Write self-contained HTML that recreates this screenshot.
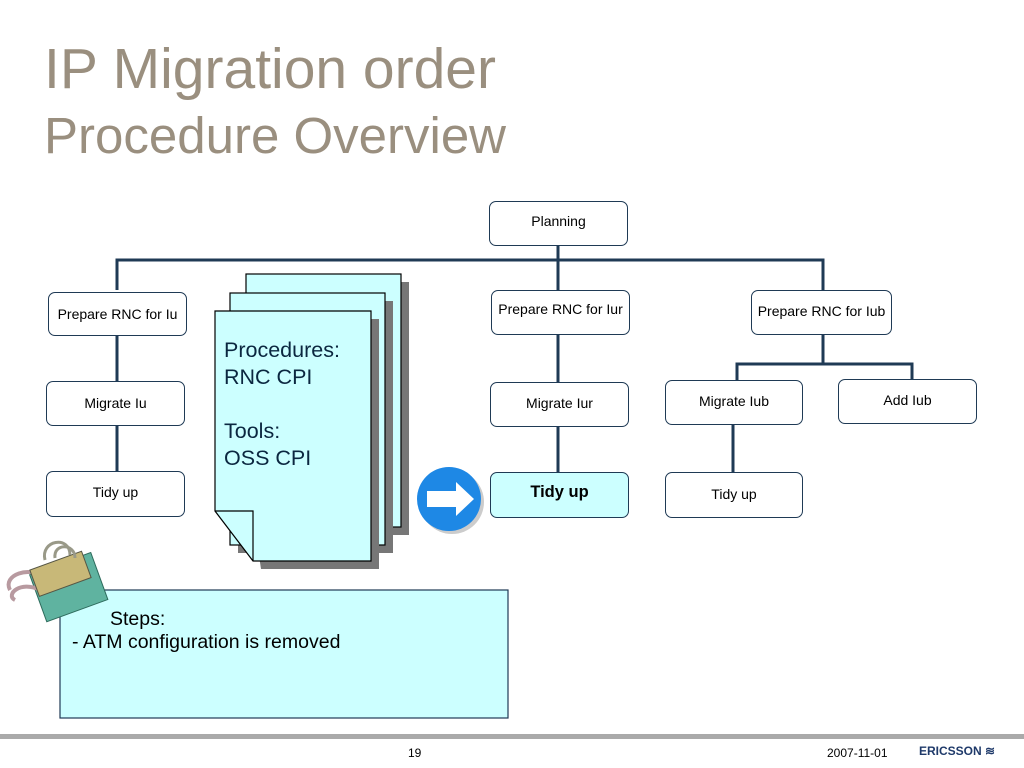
<!DOCTYPE html>
<html><head><style>
body{margin:0;width:1024px;height:768px;background:#fff;position:relative;overflow:hidden;font-family:"Liberation Sans",sans-serif}
.t{position:absolute;color:#9a8f7f;left:44px}
.b{position:absolute;border:1px solid #1f3a55;border-radius:7px;background:#fff;font-size:14px;color:#000;text-align:center;box-sizing:border-box;white-space:nowrap}
</style></head><body>
<div class="t" style="top:36px;font-size:57px">IP Migration order</div>
<div class="t" style="top:106px;font-size:51px">Procedure Overview</div>
<svg width="1024" height="768" style="position:absolute;left:0;top:0">
<g stroke="#1f3a55" stroke-width="3" fill="none">
<path d="M558 245V260M117 290V260H823V290M558 260V290M117 335V381M117 425V471M558 334V382M558 426V472M823 334V364M737 380V364H912V379M733 424V472"/>
</g>
<g stroke="#000" stroke-width="1.2">
<rect x="254" y="282" width="155" height="253" fill="#777" stroke="none"/>
<rect x="246" y="274" width="155" height="253" fill="#ccffff"/>
<rect x="238" y="301" width="155" height="252" fill="#777" stroke="none"/>
<rect x="230" y="293" width="155" height="252" fill="#ccffff"/>
<path d="M223 319H379V569H261Z" fill="#777" stroke="none"/>
<path d="M215 311H371V561H253L215 511Z" fill="#ccffff"/>
<path d="M215 511H253V561" fill="none"/>
</g>
<circle cx="452" cy="502" r="32" fill="#ccc"/>
<circle cx="449" cy="499" r="32" fill="#1e88e5"/>
<path d="M427 491H456V482L474 499L456 516V507H427Z" fill="#fff"/>
<rect x="60" y="590" width="448" height="128" fill="#ccffff" stroke="#1f3a55" stroke-width="1.2"/>
<g transform="rotate(-20 60 585)">
<rect x="35" y="565" width="65" height="50" fill="#5fb3a0" stroke="#2d6b5c"/>
</g>
<path d="M10 590c-8-15 20-25 35-12M15 600c-10-5 5-20 25-10" stroke="#b89aa0" stroke-width="4" fill="none"/>
<rect x="33" y="560" width="55" height="28" fill="#c8b878" stroke="#554" transform="rotate(-20 60 574)"/>
<path d="M45 560c-5-20 25-25 25-5M55 558c-2-15 20-15 20 0" stroke="#998" stroke-width="3" fill="none"/>
<rect x="0" y="734" width="1024" height="5" fill="#aaa"/>
</svg>
<div style="position:absolute;left:224px;top:337px;font-size:21.5px;color:#0b2740;line-height:27px">Procedures:<br>RNC CPI<br><br>Tools:<br>OSS CPI</div>
<div class="b" style="left:489px;top:201px;width:139px;height:45px;padding-top:11px">Planning</div>
<div class="b" style="left:48px;top:292px;width:139px;height:44px;padding-top:13px">Prepare RNC for Iu</div>
<div class="b" style="left:491px;top:290px;width:139px;height:45px;padding-top:10px">Prepare RNC for Iur</div>
<div class="b" style="left:751px;top:290px;width:141px;height:45px;padding-top:12px">Prepare RNC for Iub</div>
<div class="b" style="left:46px;top:381px;width:139px;height:45px;padding-top:13px">Migrate Iu</div>
<div class="b" style="left:490px;top:382px;width:139px;height:45px;padding-top:12px">Migrate Iur</div>
<div class="b" style="left:665px;top:380px;width:138px;height:45px;padding-top:12px">Migrate Iub</div>
<div class="b" style="left:838px;top:379px;width:139px;height:45px;padding-top:12px">Add Iub</div>
<div class="b" style="left:46px;top:471px;width:139px;height:46px;padding-top:12px">Tidy up</div>
<div class="b" style="left:490px;top:472px;width:139px;height:46px;padding-top:10px;background:#ccffff;font-weight:bold;font-size:16.5px">Tidy up</div>
<div class="b" style="left:665px;top:472px;width:138px;height:46px;padding-top:13px">Tidy up</div>
<div style="position:absolute;left:110px;top:608px;font-size:19.5px">Steps:</div>
<div style="position:absolute;left:72px;top:631px;font-size:19.5px">- ATM configuration is removed</div>
<div style="position:absolute;left:408px;top:746px;font-size:12px">19</div>
<div style="position:absolute;left:827px;top:746px;font-size:12px">2007-11-01</div>
<div style="position:absolute;left:919px;top:744px;font-size:12px;font-weight:bold;color:#1f3a6a">ERICSSON ≋</div>
</body></html>
